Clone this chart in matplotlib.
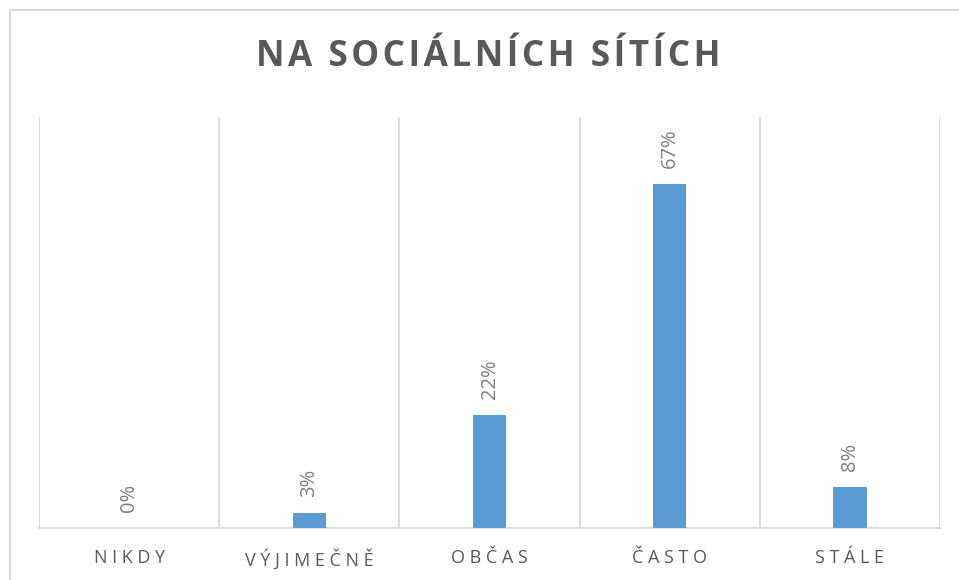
import matplotlib
matplotlib.use("Agg")
import matplotlib.pyplot as plt
from matplotlib.patches import Rectangle
import numpy as np

categories = ["NIKDY", "VÝJIMEČNĚ", "OBČAS", "ČASTO", "STÁLE"]
values = [0, 3, 22, 67, 8]
labels = ["0%", "3%", "22%", "67%", "8%"]
title = "NA SOCIÁLNÍCH SÍTÍCH"

W, H = 959, 580
fig = plt.figure(figsize=(W / 100, H / 100), dpi=100)
plt.rcParams['font.family'] = ['Open Sans', 'DejaVu Sans']

def spaced(s, sep=" "):
    return sep.join(list(s))

# outer chart frame
fig.patches.append(Rectangle((10 / W, -0.2), 2, (H - 10) / H + 0.2,
                             transform=fig.transFigure, fill=False,
                             edgecolor="#d9d9d9", linewidth=1.5, clip_on=False))

ax = fig.add_axes([39 / W, 1 - 528 / H, (940 - 39) / W, (528 - 117) / H])
x = np.arange(len(categories))
ax.bar(x, values, width=0.185, color="#5b9bd5", zorder=3)
ax.set_xlim(-0.5, len(categories) - 0.5)
ax.set_ylim(0, 80)

for xi, v, lab in zip(x, values, labels):
    ax.annotate(lab, (xi, v), xytext=(0, 16), textcoords="offset pixels",
                rotation=90, ha="center", va="bottom", fontsize=14.5,
                color="#7f7f7f")

for b in np.arange(-0.5, len(categories), 1.0):
    ax.axvline(b, color="#d9d9d9", linewidth=1.3, zorder=1)

for s in ["top", "right", "left"]:
    ax.spines[s].set_visible(False)
ax.spines["bottom"].set_color("#d9d9d9")
ax.spines["bottom"].set_linewidth(1.5)
ax.set_yticks([])
ax.set_xticks(x)
ax.set_xticklabels([spaced(c) for c in categories], fontsize=13, color="#595959")
ax.tick_params(axis="x", length=0, pad=15)

fig.text(488 / W, 1 - 57 / H, spaced(title, "\u200a"), ha="center", va="center",
         fontsize=25.3, fontweight="bold", color="#595959")

fig.savefig("out.png", dpi=100)
